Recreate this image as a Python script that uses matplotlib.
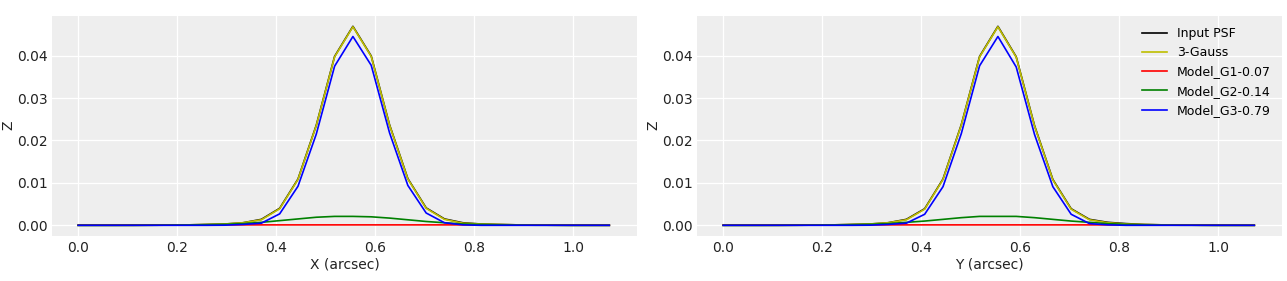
import numpy as np
import matplotlib
matplotlib.use('Agg')
import matplotlib.pyplot as plt

# pixel positions along the cut (arcsec)
pos = [0.000, 0.037, 0.074, 0.111, 0.148, 0.185, 0.222, 0.259, 0.296, 0.333,
       0.370, 0.407, 0.444, 0.481, 0.518, 0.555, 0.592, 0.629, 0.666, 0.703,
       0.740, 0.777, 0.814, 0.851, 0.888, 0.925, 0.962, 0.999, 1.036, 1.073]

# X profile
psf_x = [0.0, 0.0, 0.0, 0.0, 0.00002, 0.00004, 0.0001, 0.0002, 0.0003, 0.0006,
         0.0014, 0.0040, 0.0109, 0.0236, 0.0398, 0.0469, 0.0399, 0.0237, 0.0110, 0.0041,
         0.0015, 0.0006, 0.0003, 0.0002, 0.0001, 0.00005, 0.00002, 0.0, 0.0, 0.0]
gauss_x = [0.0, 0.0, 0.0, 0.0, 0.00002, 0.00004, 0.0001, 0.0002, 0.0003, 0.0006,
           0.0013, 0.0039, 0.0108, 0.0235, 0.0397, 0.0468, 0.0398, 0.0236, 0.0109, 0.0040,
           0.0014, 0.0005, 0.0003, 0.0002, 0.0001, 0.00005, 0.00002, 0.0, 0.0, 0.0]
g1_x = [0.00003, 0.00004, 0.00005, 0.00006, 0.00007, 0.00008, 0.00009, 0.0001, 0.0001, 0.0001,
        0.0001, 0.0001, 0.0001, 0.0001, 0.0001, 0.0001, 0.0001, 0.0001, 0.0001, 0.0001,
        0.0001, 0.0001, 0.00009, 0.00008, 0.00007, 0.00006, 0.00005, 0.00004, 0.00003, 0.00002]
g2_x = [0.0, 0.0, 0.0, 0.00001, 0.00002, 0.00004, 0.00007, 0.00013, 0.00022, 0.0004,
        0.0007, 0.0011, 0.0015, 0.0019, 0.0021, 0.0021, 0.0020, 0.0017, 0.0013, 0.0009,
        0.0006, 0.0003, 0.0002, 0.0001, 0.00005, 0.00002, 0.00001, 0.0, 0.0, 0.0]
g3_x = [0.0, 0.0, 0.0, 0.0, 0.0, 0.0, 0.0, 0.0, 0.00003, 0.0002,
        0.0005, 0.0027, 0.0092, 0.0215, 0.0375, 0.0445, 0.0377, 0.0218, 0.0094, 0.0029,
        0.0006, 0.0001, 0.0, 0.0, 0.0, 0.0, 0.0, 0.0, 0.0, 0.0]

# Y profile
psf_y = [0.0, 0.0, 0.0, 0.0, 0.00002, 0.00004, 0.0001, 0.0002, 0.0003, 0.0006,
         0.0014, 0.0039, 0.0109, 0.0237, 0.0398, 0.0469, 0.0397, 0.0235, 0.0108, 0.0039,
         0.0014, 0.0007, 0.0004, 0.0002, 0.0001, 0.00005, 0.00002, 0.0, 0.0, 0.0]
gauss_y = [0.0, 0.0, 0.0, 0.0, 0.00002, 0.00004, 0.0001, 0.0002, 0.0003, 0.0006,
           0.0013, 0.0038, 0.0108, 0.0236, 0.0397, 0.0468, 0.0396, 0.0234, 0.0107, 0.0038,
           0.0013, 0.0006, 0.0003, 0.0002, 0.0001, 0.00005, 0.00002, 0.0, 0.0, 0.0]
g1_y = g1_x
g2_y = [0.0, 0.0, 0.0, 0.00001, 0.00002, 0.00004, 0.00007, 0.00013, 0.00022, 0.0004,
        0.0007, 0.0010, 0.0014, 0.0018, 0.0021, 0.0021, 0.0021, 0.0018, 0.0014, 0.0010,
        0.0007, 0.0004, 0.0002, 0.0001, 0.00005, 0.00002, 0.00001, 0.0, 0.0, 0.0]
g3_y = [0.0, 0.0, 0.0, 0.0, 0.0, 0.0, 0.0, 0.0, 0.00003, 0.0002,
        0.0005, 0.0026, 0.0091, 0.0216, 0.0376, 0.0445, 0.0373, 0.0214, 0.0091, 0.0026,
        0.0004, 0.0001, 0.0, 0.0, 0.0, 0.0, 0.0, 0.0, 0.0, 0.0]

labels = ['Input PSF', '3-Gauss', 'Model_G1-0.07', 'Model_G2-0.14', 'Model_G3-0.79']
line_colors = ['k', 'y', 'r', 'g', 'b']

plt.rcParams['font.family'] = 'DejaVu Sans'
fig, axs = plt.subplots(1, 2, figsize=(12.87, 2.81), dpi=100)
# axes boxes in pixels: left 52..637, right 697..1282, top 15.7, bottom 235.7
fig.subplots_adjust(left=52/1287, right=1282/1287, top=1-15.7/281, bottom=1-235.7/281,
                    wspace=60/585)

profiles = [(psf_x, gauss_x, g1_x, g2_x, g3_x), (psf_y, gauss_y, g1_y, g2_y, g3_y)]
xlabels = ['X (arcsec)', 'Y (arcsec)']

for ax, prof, xl in zip(axs, profiles, xlabels):
    ax.set_facecolor('#eeeeee')
    for s in ax.spines.values():
        s.set_visible(False)
    ax.grid(True, color='white', linewidth=0.9)
    ax.set_axisbelow(True)
    for vals, lab, c in zip(prof, labels, line_colors):
        ax.plot(pos, vals, color=c, label=lab, linewidth=1.2)
    ax.set_xlabel(xl, fontsize=10, color='#222222')
    ax.set_ylabel('Z', fontsize=10, color='#222222')
    ax.xaxis.set_label_coords(0.5, -0.098)
    ax.yaxis.set_label_coords(-0.063, 0.5)
    ax.tick_params(length=0, labelsize=10, colors='#222222', pad=3)
    ax.tick_params(axis='x', pad=4)
    ax.set_xticks([0.0, 0.2, 0.4, 0.6, 0.8, 1.0])
    ax.set_yticks([0.00, 0.01, 0.02, 0.03, 0.04])
    ax.set_ylim(-0.00245, 0.0494)
    ax.set_xlim(-0.053, 1.129)

axs[1].legend(loc='upper right', frameon=False, fontsize=9)

plt.savefig('out.png')
